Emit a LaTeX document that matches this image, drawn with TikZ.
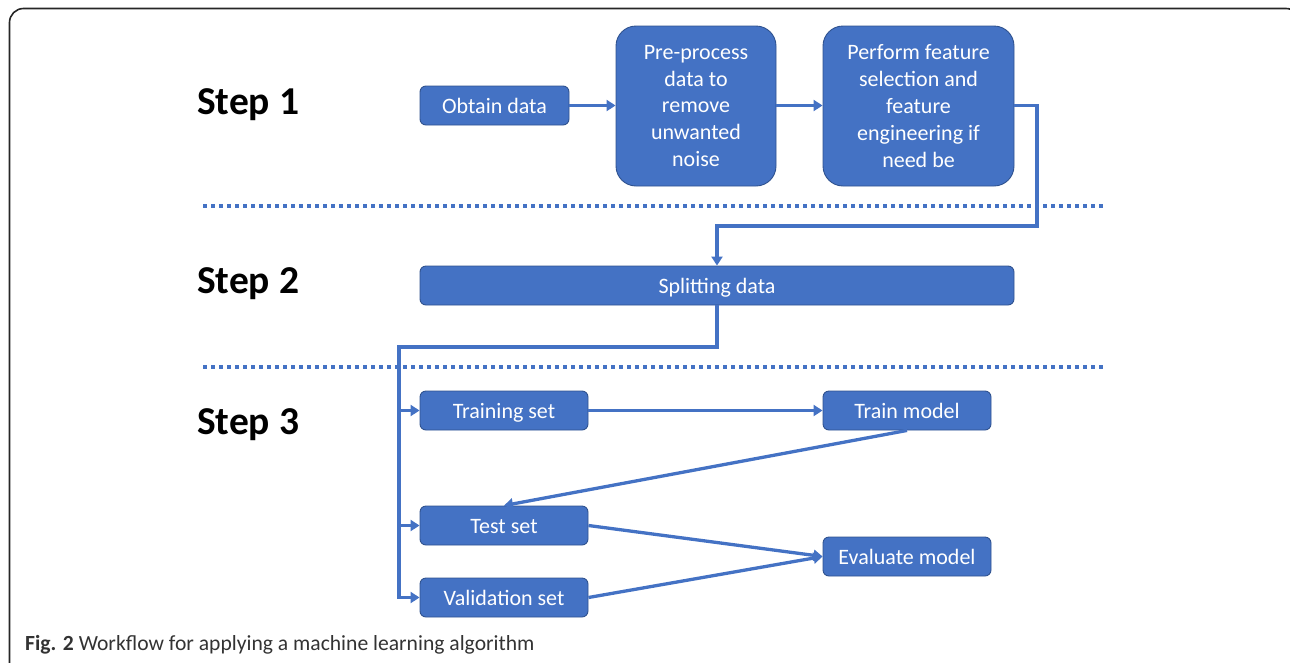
\documentclass[tikz,border=0pt]{standalone}
\usepackage{fontspec}
\setmainfont{Carlito}
\usetikzlibrary{arrows.meta}
\definecolor{boxblue}{HTML}{4472C4}
\definecolor{boxedge}{HTML}{2F528F}
\tikzset{
  box/.style={draw=boxedge, fill=boxblue, line width=0.9pt, rounded corners=6pt,
    text=white, font=\fontsize{22}{26.8}\selectfont, inner sep=0pt, align=center},
  bigbox/.style={box, rounded corners=20pt, minimum width=160pt, minimum height=160pt},
  onebox/.style={box, text height=19pt, text depth=3pt, minimum height=39pt},
  smallbox/.style={onebox, minimum width=168pt},
  arr/.style={draw=boxblue, line width=3.3pt, -{Triangle[length=9pt,width=11pt]}},
  sep/.style={draw=boxblue, line width=3.3pt, dash pattern=on 3.5pt off 4.5pt},
  steplbl/.style={font=\fontsize{39.5}{42}\selectfont\bfseries, anchor=west, inner sep=0pt},
}
\begin{document}
\begin{tikzpicture}[x=1pt,y=-1pt]
\useasboundingbox (0,0) rectangle (1290,662);
\begin{scope}
\clip (0,0) rectangle (1290,662);
\draw[line width=1.6pt, rounded corners=14pt, black!85] (9.5,8.5) rectangle (1300,680);
\end{scope}

% separators
\draw[sep] (203,206) -- (1107,206);
\draw[sep] (203,367) -- (1107,367);

% step labels
\node[steplbl] (s1) at (197,105) {Step 1};
\node[steplbl] (s2) at (197,284) {Step 2};
\node[steplbl] (s3) at (197,425) {Step 3};

% nodes
\node[onebox, minimum width=149pt] (obt) at (494.5,105.5) {Obtain data};
\node[bigbox, minimum width=160pt] (pre) at (696,106) {Pre-process\\data to\\remove\\unwanted\\noise};
\node[bigbox, minimum width=191pt] (perf) at (918.5,106) {Perform feature\\selection and\\feature\\engineering if\\need be};
\node[onebox, minimum width=594pt] (split) at (717,285.5) {Splitting data};
\node[smallbox] (train) at (504,410.5) {Training set};
\node[smallbox] (tm) at (907,410.5) {Train model};
\node[smallbox] (test) at (504,525.5) {Test set};
\node[smallbox] (eval) at (907,556.5) {Evaluate model};
\node[smallbox] (val) at (504,597.5) {Validation set};

% connectors
\draw[arr] (obt.east) -- (pre.west |- obt.east);
\draw[arr] (pre.east |- obt.east) -- (perf.west |- obt.east);
\coordinate (c1) at (1037,226);
\draw[arr] (perf.east |- obt.east) -| (c1) -| (split.north);
\coordinate (bustop) at (399,347);
\draw[arr] (split.south) |- (bustop) |- (val.west);
\draw[arr] (bustop |- train.west) -- (train.west);
\draw[arr] (bustop |- test.west) -- (test.west);
\draw[arr] (train.east) -- (tm.west);
\draw[arr] (tm.south) -- (test.north);
\draw[arr] (test.east) -- (eval.west);
\draw[arr] (val.east) -- (eval.west);

% caption
\node[anchor=base west, inner sep=0pt, font=\fontsize{21.6}{24}\selectfont, text=black!80] (cap) at (25,650)
  {\textbf{Fig. 2} Workflow for applying a machine learning algorithm};
\end{tikzpicture}
\end{document}
